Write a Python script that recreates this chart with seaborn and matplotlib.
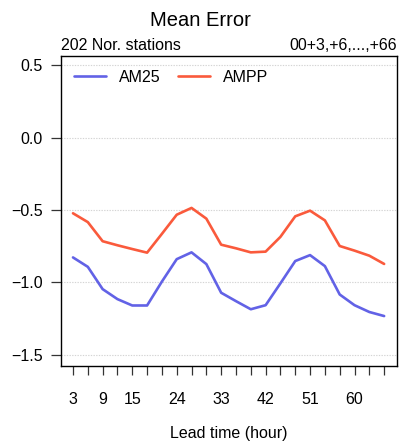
import numpy as np
import pandas as pd
import matplotlib
matplotlib.use("Agg")
import matplotlib.pyplot as plt
import seaborn as sns

# Mean error per lead time
lead_time = list(range(3, 67, 3))
am25 = [-0.828, -0.893, -1.047, -1.116, -1.160, -1.160, -0.995, -0.840,
        -0.793, -0.874, -1.072, -1.130, -1.186, -1.158, -1.007, -0.853,
        -0.812, -0.888, -1.084, -1.158, -1.205, -1.233]
ampp = [-0.523, -0.584, -0.716, -0.744, -0.770, -0.795, -0.665, -0.533,
        -0.486, -0.560, -0.740, -0.765, -0.793, -0.788, -0.686, -0.544,
        -0.505, -0.572, -0.749, -0.781, -0.816, -0.873]
labelled_ticks = [3, 9, 15, 24, 33, 42, 51, 60]
y_ticks = [-1.5, -1.0, -0.5, 0.0, 0.5]

df = pd.DataFrame({
    "lead": lead_time * 2,
    "me": am25 + ampp,
    "model": ["AM25"] * len(am25) + ["AMPP"] * len(ampp),
})

sns.set_style("white")
plt.rcParams["font.family"] = ["Liberation Sans", "DejaVu Sans"]
plt.rcParams["text.color"] = "black"
plt.rcParams["axes.labelcolor"] = "black"
plt.rcParams["xtick.color"] = "black"
plt.rcParams["ytick.color"] = "black"

fig = plt.figure(figsize=(4.01, 4.44), dpi=100)
ax = fig.add_axes([0.151, 0.1757, 0.838, 0.6983])

sns.lineplot(data=df, x="lead", y="me", hue="model",
             palette={"AM25": "#6262e6", "AMPP": "#fa5a3c"},
             linewidth=1.9, ax=ax)

ax.set_xlim(0.48, 68.52)
ax.set_ylim(-1.578, 0.564)

ax.set_xticks(lead_time)
ax.set_xticklabels([str(t) if t in labelled_ticks else "" for t in lead_time])
ax.set_yticks(y_ticks)
ax.set_yticklabels([f"{v:.1f}".replace("-", "\u2212") for v in y_ticks])

for v in y_ticks:
    ax.axhline(v, color="#d4d4d4", linestyle=(0, (1.2, 1.2)), linewidth=0.8, zorder=0)

ax.tick_params(axis="x", bottom=True, direction="out", length=6.5, width=0.9,
               pad=12, labelsize=11.5, color="#333333")
ax.tick_params(axis="y", left=True, direction="out", length=7, width=0.9,
               pad=6, labelsize=11.5, color="#333333")
for s in ["left", "top", "right", "bottom"]:
    ax.spines[s].set_color("black")
    ax.spines[s].set_linewidth(1.0)

ax.set_xlabel("Lead time (hour)", fontsize=11.5, labelpad=14)
ax.set_ylabel("")

ax.legend(title=None, loc="upper left", ncol=2, frameon=False, fontsize=11.5,
          handlelength=2.0, handletextpad=0.8, columnspacing=1.1,
          bbox_to_anchor=(0.0, 1.0), borderaxespad=0.45)

fig.text(0.5, 0.953, "Mean Error", ha="center", va="center", fontsize=14.5)
ax.text(0.0, 1.01, "202 Nor. stations", transform=ax.transAxes,
        ha="left", va="bottom", fontsize=11.5)
ax.text(1.0, 1.01, "00+3,+6,...,+66", transform=ax.transAxes,
        ha="right", va="bottom", fontsize=11.5)

fig.savefig("out.png", dpi=100)
